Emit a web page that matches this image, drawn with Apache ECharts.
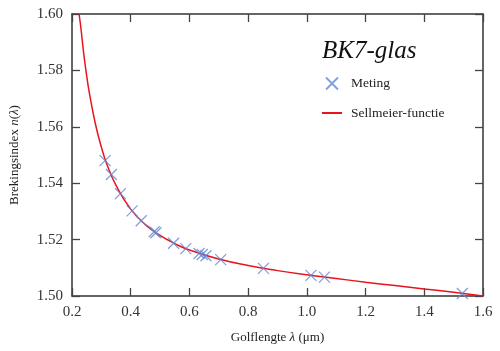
<!DOCTYPE html>
<html>
<head>
<meta charset="utf-8">
<script src="https://cdn.jsdelivr.net/npm/echarts@6/dist/echarts.min.js"></script>
<style>
html,body{margin:0;padding:0;background:#fff;}
#chart{width:500px;height:351px;}
</style>
</head>
<body>
<div id="chart"></div>
<script>
// gemeten golflengtes (um) en brekingsindex
var metingLambda = [0.3126, 0.3341, 0.3650, 0.4047, 0.4358, 0.4800, 0.4861, 0.5461, 0.5876,
    0.6328, 0.6438, 0.6563, 0.7065, 0.8521, 1.0140, 1.0600, 1.5296];
var metingN = [1.5480, 1.5431, 1.5363, 1.5302, 1.5267, 1.5228, 1.5224, 1.5187, 1.5168,
    1.5151, 1.5147, 1.5143, 1.5129, 1.5098, 1.5073, 1.5067, 1.5009];
var curveLambda = [0.224, 0.23, 0.24, 0.25, 0.26, 0.28, 0.30, 0.32, 0.35, 0.40, 0.45, 0.50, 0.55,
    0.60, 0.70, 0.80, 0.90, 1.00, 1.10, 1.20, 1.30, 1.40, 1.50, 1.60];
var curveN = [1.6000, 1.5953, 1.5859, 1.5781, 1.5715, 1.5609, 1.5528, 1.5464, 1.5392, 1.5308, 1.5253,
    1.5215, 1.5186, 1.5163, 1.5131, 1.5108, 1.5090, 1.5075, 1.5062, 1.5049, 1.5037, 1.5025, 1.5013, 1.5000];
var xTicks = [0.2, 0.4, 0.6, 0.8, 1.0, 1.2, 1.4, 1.6];
var yTicks = [1.50, 1.52, 1.54, 1.56, 1.58, 1.60];

var serif = '"Liberation Serif", "DejaVu Serif", serif';
var blauw = '#6188d4';
var rood = '#e8141c';
var kruis = 'path://M0,0L10,10M10,0L0,10';

var chart = echarts.init(document.getElementById('chart'));

function pairs(a, b) {
    var out = [];
    for (var i = 0; i < a.length; i++) { out.push([a[i], b[i]]); }
    return out;
}

var tickStyle = {show: true, inside: true, length: 8, lineStyle: {color: '#444', width: 1.3}};
var lineStyle = {show: true, lineStyle: {color: '#333', width: 1.5}};

var option = {
    animation: false,
    title: {
        text: 'BK7-glas',
        left: 317, top: 34,
        textStyle: {fontFamily: serif, fontStyle: 'italic', fontWeight: 'normal', fontSize: 25, color: '#111'}
    },
    legend: {
        orient: 'vertical',
        left: 316, top: 70,
        itemWidth: 20, itemHeight: 12,
        itemGap: 14,
        textStyle: {fontFamily: serif, fontSize: 13.5, color: '#222', padding: [0, 0, 0, 4]},
        data: ['Meting', {name: 'Sellmeier-functie', itemStyle: {opacity: 0}}]
    },
    grid: {left: 72, right: 17, top: 14, bottom: 55},
    xAxis: [{
        type: 'value', min: xTicks[0], max: xTicks[xTicks.length - 1], interval: 0.2,
        axisLine: lineStyle, axisTick: tickStyle, splitLine: {show: false},
        axisLabel: {fontFamily: serif, fontSize: 15, color: '#333', margin: 9,
            formatter: function (v) { return v.toFixed(1); }},
        name: 'Golflengte {i|λ} (μm)', nameLocation: 'middle', nameGap: 35,
        nameTextStyle: {fontFamily: serif, fontSize: 13, color: '#222',
            rich: {i: {fontFamily: serif, fontStyle: 'italic', fontSize: 13, color: '#222'}}}
    }, {
        type: 'value', position: 'top', min: xTicks[0], max: xTicks[xTicks.length - 1], interval: 0.2,
        axisLine: lineStyle, axisTick: tickStyle, axisLabel: {show: false}, splitLine: {show: false}
    }],
    yAxis: [{
        type: 'value', min: yTicks[0], max: yTicks[yTicks.length - 1], interval: 0.02,
        axisLine: lineStyle, axisTick: tickStyle, splitLine: {show: false},
        axisLabel: {fontFamily: serif, fontSize: 15, color: '#333', margin: 9,
            formatter: function (v) { return v.toFixed(2); }},
        name: 'Brekingsindex {i|n}({i|λ})', nameLocation: 'middle', nameGap: 51, nameRotate: 90,
        nameTextStyle: {fontFamily: serif, fontSize: 13, color: '#222',
            rich: {i: {fontFamily: serif, fontStyle: 'italic', fontSize: 13, color: '#222'}}}
    }, {
        type: 'value', position: 'right', min: yTicks[0], max: yTicks[yTicks.length - 1], interval: 0.02,
        axisLine: lineStyle, axisTick: tickStyle, axisLabel: {show: false}, splitLine: {show: false}
    }],
    series: [{
        name: 'Sellmeier-functie',
        type: 'line',
        smooth: true,
        symbol: 'none',
        clip: true,
        lineStyle: {color: rood, width: 1.5},
        itemStyle: {color: rood},
        data: pairs(curveLambda, curveN),
        z: 2
    }, {
        name: 'Meting',
        type: 'scatter',
        symbol: kruis,
        symbolSize: 11,
        itemStyle: {color: 'none', borderColor: blauw, borderWidth: 1.3},
        data: pairs(metingLambda, metingN),
        z: 3
    }]
};
chart.setOption(option);
</script>
</body>
</html>
